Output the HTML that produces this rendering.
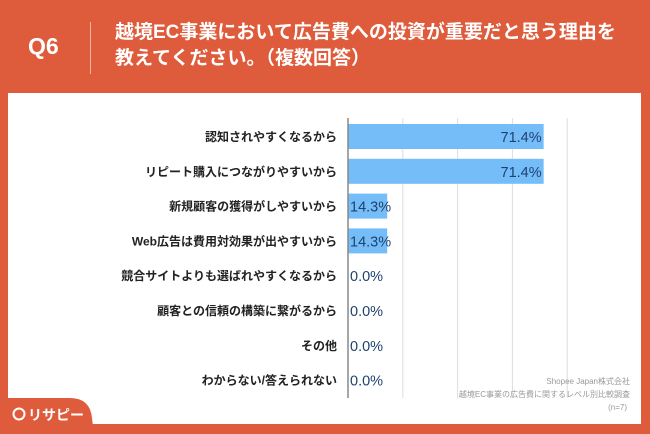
<!DOCTYPE html>
<html><head><meta charset="utf-8"><style>
html,body{margin:0;padding:0}
body{width:650px;height:434px;background:#de5b3c;position:relative;overflow:hidden;font-family:"Liberation Sans","Noto Sans CJK JP",sans-serif}
.abs{position:absolute}
</style></head><body>
<div class="abs" style="left:28px;top:33px;font-size:23px;color:#fff;font-weight:bold">Q6</div>
<div class="abs" style="left:90px;top:22px;width:1px;height:52px;background:#f3b4a4"></div>
<div class="abs" style="left:115px;top:20px;font-size:19px;line-height:26px;color:#fff;font-weight:bold;white-space:nowrap">越境EC事業において広告費への投資が重要だと思う理由を<br>教えてください。（複数回答）</div>
<div class="abs" style="left:8px;top:93px;width:633px;height:331px;background:#fff"></div>
<svg class="abs" style="left:0;top:0" width="650" height="434">
<g id="g"></g>
<text x="630" y="384" text-anchor="end" font-size="8" fill="#999">Shopee Japan株式会社</text>
<text x="630" y="397" text-anchor="end" font-size="8" fill="#999">越境EC事業の広告費に関するレベル別比較調査</text>
<text x="627" y="410" text-anchor="end" font-size="8" fill="#999">(n=7)</text>
<path d="M0 398 H70 Q90 398 92 418 L94 434 H0 Z" fill="#de5b3c"/>
<circle cx="19" cy="414" r="5.5" fill="none" stroke="#fff" stroke-width="2"/>
<text x="28" y="420" font-size="14" fill="#fff" font-weight="bold">リサピー</text>
</svg>
<script>
const categories=["認知されやすくなるから","リピート購入につながりやすいから","新規顧客の獲得がしやすいから","Web広告は費用対効果が出やすいから","競合サイトよりも選ばれやすくなるから","顧客との信頼の構築に繋がるから","その他","わからない/答えられない"];
const values=[71.4,71.4,14.3,14.3,0,0,0,0];
const ticks=[0,20,40,60,80];
const NS="http://www.w3.org/2000/svg";
const g=document.getElementById('g');
const x0=348,x100=622,yTop=124,pitch=34.8,bh=25;
const xs=v=>x0+(x100-x0)*v/100;
function mk(t,a){const e=document.createElementNS(NS,t);for(const k in a)e.setAttribute(k,a[k]);g.appendChild(e);return e;}
ticks.slice(1).forEach(t=>{const l=mk('line',{x1:xs(t),x2:xs(t),y1:118,y2:398,stroke:'#ddd','stroke-width':1});

});
categories.forEach((c,i)=>{
const y=yTop+i*pitch;
const r=mk('rect',{x:x0,y:y,width:xs(values[i])-x0,height:bh,fill:'#74bdf8'});


const lab=mk('text',{x:337,y:y+bh/2+4.5,'text-anchor':'end','font-size':12,fill:'#222','font-weight':'bold'});
lab.textContent=c;


const big=values[i]>30;
const v=mk('text',{x:big?xs(values[i])-2:x0+2,y:y+bh/2+5.5,'text-anchor':big?'end':'start','font-size':14.5,fill:'#1f4170'});
v.textContent=values[i].toFixed(1)+'%';


});
const ax=mk('line',{x1:x0,x2:x0,y1:118,y2:398,stroke:'#888','stroke-width':1.5});


</script>
</body></html>
